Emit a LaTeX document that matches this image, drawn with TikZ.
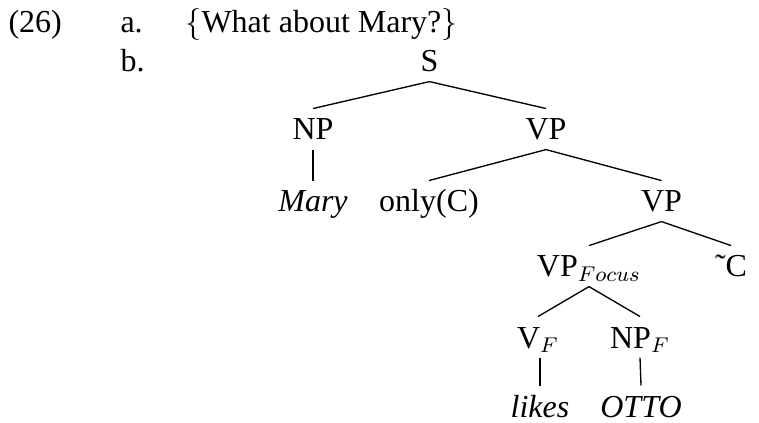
\documentclass[tikz,border=0pt]{standalone}
\usepackage{fontspec}
\setmainfont{Liberation Serif}
\begin{document}
\begin{tikzpicture}[x=0.375pt,y=-0.375pt,
  lbl/.style={inner sep=0pt, anchor=base west, font=\fontsize{12}{14}\selectfont},
  tn/.style={inner sep=0pt, text height=11.6pt, text depth=3.4pt, anchor=base, font=\fontsize{12}{14}\selectfont},
  br/.style={line width=0.5pt}]
\useasboundingbox (0,0) rectangle (759,423);
% example labels
\node[lbl] (num) at (8,33) {(26)};
\node[lbl] (ia) at (120,33) {a.};
\node[lbl] (qa) at (185,33) {$\{$What about Mary?$\}$};
\node[lbl] (ib) at (120,72) {b.};
% tree nodes
\node[tn] (S) at (429.5,72) {S};
\node[tn] (NP) at (313,140) {NP};
\node[tn] (VP1) at (546,140) {VP};
\node[tn] (Mary) at (313,212) {\itshape Mary};
\node[tn] (onlyC) at (429,212) {only(C)};
\node[tn] (VP2) at (661.5,212) {VP};
\node[tn] (VPF) at (589,277) {VP$_{Focus}$};
\node[tn] (tC) at (731,277) {{\char"02DC}C};
\node[tn] (VF) at (538,348) {V$_F$};
\node[tn] (NPF) at (640,348) {NP$_F$};
\node[tn] (likes) at (540,417) {\itshape likes};
\node[tn] (OTTO) at (641,417) {\itshape OTTO};
% branches
\draw[br] (S.south) -- (NP.north);
\draw[br] (S.south) -- (VP1.north);
\draw[br] (NP.south) -- (Mary.north);
\draw[br] (VP1.south) -- (onlyC.north);
\draw[br] (VP1.south) -- (VP2.north);
\draw[br] (VP2.south) -- (VPF.north);
\draw[br] (VP2.south) -- (tC.north);
\draw[br] (VPF.south) -- (VF.north);
\draw[br] (VPF.south) -- (NPF.north);
\draw[br] (VF.south -| likes.north) -- (likes.north);
\draw[br] (NPF.south) -- (OTTO.north);
\end{tikzpicture}
\end{document}
